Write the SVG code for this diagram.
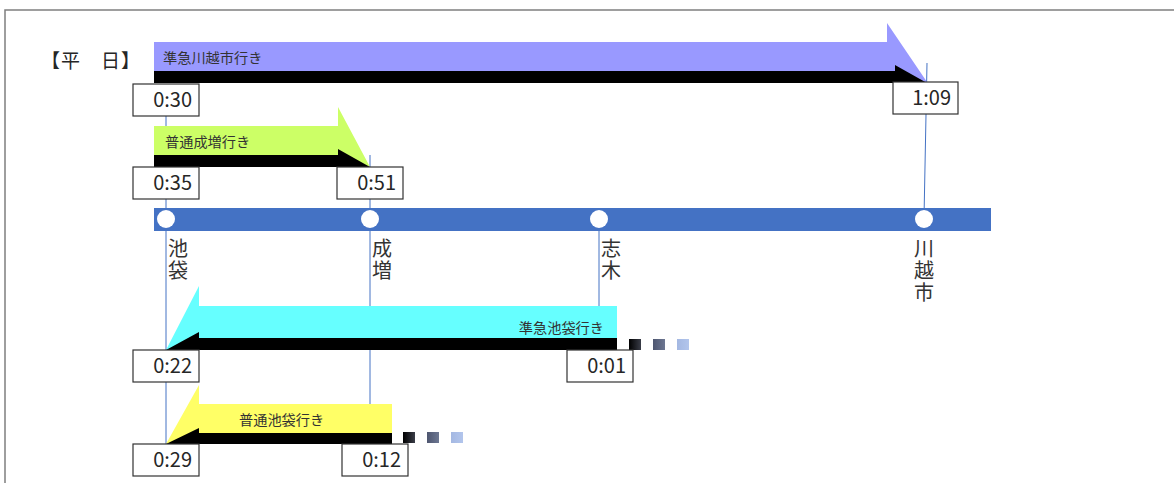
<svg xmlns="http://www.w3.org/2000/svg" width="1174" height="483" viewBox="0 0 1174 483">
<defs>
<style>
.frame{stroke:#7f7f7f;stroke-width:1.5;fill:none}
.conn{stroke:#4472C4;stroke-width:1;fill:none}
.box{fill:#fff;stroke:#333;stroke-width:1.2}
.time{font-family:"Noto Sans CJK JP","Noto Sans",sans-serif;font-size:20px;fill:#262626;text-anchor:end}
.lbl{font-family:"Noto Sans CJK JP",sans-serif;font-size:14.2px;fill:#333}
.stn{font-family:"Noto Sans CJK JP",sans-serif;font-size:20px;fill:#333;writing-mode:vertical-rl;letter-spacing:2px}
.shadow{fill:#000}
</style>
<linearGradient id="g1" x1="0" x2="1" y1="0" y2="0"><stop offset="0" stop-color="#000"/><stop offset="1" stop-color="#3a3d48"/></linearGradient>
<linearGradient id="g2" x1="0" x2="1" y1="0" y2="0"><stop offset="0" stop-color="#4e5670"/><stop offset="1" stop-color="#6d7792"/></linearGradient>
<linearGradient id="g3" x1="0" x2="1" y1="0" y2="0"><stop offset="0" stop-color="#a4b8e2"/><stop offset="1" stop-color="#b2c5ec"/></linearGradient>
</defs>
<rect width="1174" height="483" fill="#fff"/>
<path class="frame" d="M5,483 V10 H1174"/>
<text id="heading" x="41" y="68" font-family="Noto Sans CJK JP,sans-serif" font-size="19" letter-spacing="1" fill="#262626">【平　日】</text>

<g id="connectors">
<line class="conn" x1="166" y1="100" x2="166" y2="460"/>
<line class="conn" x1="370" y1="155" x2="370" y2="404"/>
<line class="conn" x1="599" y1="218" x2="599" y2="306"/>
<line class="conn" x1="927" y1="63" x2="924" y2="218"/>
</g>

<g id="line-bar">
<rect x="154" y="208" width="837" height="23" fill="#4472C4"/>
</g>
<g id="st-ikebukuro"><circle cx="166" cy="219" r="9" fill="#fff"/><text class="stn" x="178" y="238">池袋</text></g>
<g id="st-narimasu"><circle cx="370" cy="219" r="9" fill="#fff"/><text class="stn" x="382" y="238">成増</text></g>
<g id="st-shiki"><circle cx="599" cy="219" r="9" fill="#fff"/><text class="stn" x="611" y="238">志木</text></g>
<g id="st-kawagoeshi"><circle cx="924" cy="219" r="9" fill="#fff"/><text class="stn" x="924" y="238">川越市</text></g>

<g id="arrow-semiexp-kawagoeshi">
<polygon points="154,42 887,42 887,23 927,82 154,82" fill="#9999FF"/>
<polygon class="shadow" points="154,71 895,71 895,65 927,83 154,83"/>
<text class="lbl" x="163" y="63">準急川越市行き</text>
</g>
<g id="arrow-local-narimasu">
<polygon points="154,126 338,126 338,107 370,167 154,167" fill="#CCFF66"/>
<polygon class="shadow" points="154,155 338,155 338,149 370,167 154,167"/>
<text class="lbl" x="165" y="147">普通成増行き</text>
</g>
<g id="arrow-semiexp-ikebukuro">
<polygon points="617,306 199,306 199,286 166,350 617,350" fill="#66FFFF"/>
<polygon class="shadow" points="617,338 199,338 199,332 166,350 617,350"/>
<text class="lbl" x="604" y="333" text-anchor="end">準急池袋行き</text>
<rect x="629" y="339" width="12" height="11" fill="url(#g1)"/>
<rect x="653" y="339" width="12" height="11" fill="url(#g2)"/>
<rect x="677" y="339" width="12" height="11" fill="url(#g3)"/>
</g>
<g id="arrow-local-ikebukuro">
<polygon points="392,404 199,404 199,385 166,444 392,444" fill="#FFFF66"/>
<polygon class="shadow" points="392,433 199,433 199,428 166,444 392,444"/>
<text class="lbl" x="239" y="425">普通池袋行き</text>
<rect x="403" y="432" width="12" height="11" fill="url(#g1)"/>
<rect x="427" y="432" width="12" height="11" fill="url(#g2)"/>
<rect x="451" y="432" width="12" height="11" fill="url(#g3)"/>
</g>

<g id="t-0030"><rect class="box" x="133" y="84" width="66" height="32"/><text class="time" x="192" y="107">0:30</text></g>
<g id="t-0109"><rect class="box" x="893" y="82" width="65" height="32"/><text class="time" x="951" y="105">1:09</text></g>
<g id="t-0035"><rect class="box" x="133" y="167" width="66" height="32"/><text class="time" x="192" y="190">0:35</text></g>
<g id="t-0051"><rect class="box" x="337" y="167" width="66" height="32"/><text class="time" x="396" y="190">0:51</text></g>
<g id="t-0022"><rect class="box" x="133" y="350" width="66" height="32"/><text class="time" x="192" y="373">0:22</text></g>
<g id="t-0001"><rect class="box" x="567" y="350" width="66" height="32"/><text class="time" x="626" y="373">0:01</text></g>
<g id="t-0029"><rect class="box" x="133" y="444" width="66" height="32"/><text class="time" x="192" y="467">0:29</text></g>
<g id="t-0012"><rect class="box" x="342" y="444" width="66" height="32"/><text class="time" x="401" y="467">0:12</text></g>
</svg>
